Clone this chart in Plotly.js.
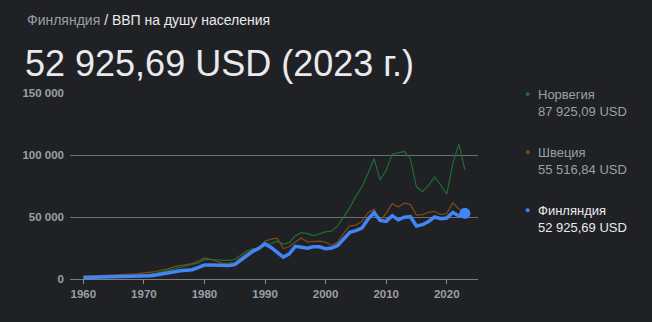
<!DOCTYPE html>
<html>
<head>
<meta charset="utf-8">
<script src="https://cdn.plot.ly/plotly-3.0.1.min.js"></script>
<style>html,body{margin:0;padding:0;background:#202124;}#chart{width:652px;height:322px;}</style>
</head>
<body>
<div id="chart"></div>
<script>
const years = [];
for (let y = 1960; y <= 2023; y++) years.push(y);

const norway = [1441,1561,1667,1772,1937,2130,2303,2498,2660,2887,3306,3736,4413,5689,6811,8204,9097,10404,11378,13025,15772,15813,15506,15021,15042,15748,18883,22515,24219,24331,28243,28597,30525,28178,29321,34876,37321,36629,34788,36371,38131,38543,43084,50134,57604,66810,74148,85140,96944,79978,87693,100600,101524,102913,97019,74356,70461,75497,82268,75826,68340,93073,108798,87925];
const sweden = [2114,2288,2476,2688,2999,3274,3539,3822,4029,4331,4922,5195,6011,7259,8154,9970,10785,11260,12474,14521,17117,15931,13952,12558,12809,13210,17400,21030,24012,25508,30585,32113,32846,24545,26048,29914,33136,29934,30009,30592,29588,27227,29781,36919,42817,43435,46593,53542,56153,46947,52869,60756,58038,61127,60020,51545,51965,53792,54589,51939,52838,61418,56424,55517];
const finland = [1177,1311,1390,1504,1672,1825,1937,1878,1749,2052,2468,2652,3155,4210,5300,6233,6695,7048,7508,9386,11240,11253,11023,10543,10889,11542,15042,18941,22357,24698,28332,25484,21920,17575,20303,26325,25640,24903,26033,25995,24349,24998,27069,32894,37617,39000,41141,48295,53401,47260,46459,51081,47710,49878,50260,42784,43784,46412,50038,48630,49171,53654,50872,52925];

const seriesNames = ['Норвегия','Швеция','Финляндия'];
const seriesLast = ['87 925,09 USD','55 516,84 USD','52 925,69 USD'];
const xTicks = [1960,1970,1980,1990,2000,2010,2020];
const yTicks = [0,50000,100000,150000];
const yTickText = ['0','50 000','100 000','150 000'];
const headerCountry = 'Финляндия';
const headerMetric = 'ВВП на душу населения';
const bigTitle = '52 925,69 USD (2023 г.)';

const colors = ['#1e6e34','#7b4a1c','#4285f4'];
const BG = '#202124';
const FONT = 'Arial, "Liberation Sans", sans-serif';

const L = 70, R = 478, T = 93, B = 279, W = 652, H = 322;
const px = x => (x - L) / (R - L);
const py = y => (B - y) / (B - T);

const traces = [
  {x: years, y: norway, type: 'scatter', mode: 'lines', line: {color: colors[0], width: 1.2}, hoverinfo: 'skip'},
  {x: years, y: sweden, type: 'scatter', mode: 'lines', line: {color: colors[1], width: 1.2}, hoverinfo: 'skip'},
  {x: years, y: finland, type: 'scatter', mode: 'lines', line: {color: colors[2], width: 3.5}, hoverinfo: 'skip'},
  {x: [years[years.length-1]], y: [finland[finland.length-1]], type: 'scatter', mode: 'markers', marker: {color: colors[2], size: 11}, hoverinfo: 'skip'}
];

const ann = [];
ann.push({xref:'paper', yref:'paper', x: px(25), y: py(20), xanchor:'left', yanchor:'middle', showarrow:false,
  text: '<span style="color:#9aa0a6">' + headerCountry + '</span> / ' + headerMetric,
  font: {family: FONT, size: 14, color:'#e8eaed'}});
ann.push({xref:'paper', yref:'paper', x: px(23), y: py(64), xanchor:'left', yanchor:'middle', showarrow:false,
  text: bigTitle, font: {family: FONT, size: 36, color:'#e8eaed'}});

const legY = [94, 152, 210];
for (let i = 0; i < 3; i++) {
  const c = i === 2 ? '#e8eaed' : '#9aa0a6';
  ann.push({xref:'paper', yref:'paper', x: px(527), y: py(legY[i]), xanchor:'center', yanchor:'middle', showarrow:false,
    text: '●', font: {family: FONT, size: 9, color: colors[i]}});
  ann.push({xref:'paper', yref:'paper', x: px(536), y: py(legY[i]), xanchor:'left', yanchor:'middle', showarrow:false,
    text: seriesNames[i], font: {family: FONT, size: 13, color: c}});
  ann.push({xref:'paper', yref:'paper', x: px(536), y: py(legY[i] + 17), xanchor:'left', yanchor:'middle', showarrow:false,
    text: seriesLast[i], font: {family: FONT, size: 13, color: c}});
}

const layout = {
  width: W, height: H,
  paper_bgcolor: BG, plot_bgcolor: BG,
  margin: {l: L, r: W - R, t: T, b: H - B, pad: 0},
  showlegend: false,
  separators: ', ',
  xaxis: {range: [1957.8, 2025.16], tickvals: xTicks, ticktext: xTicks.map(String), showgrid: false, zeroline: false,
    showline: false, ticks: 'outside', ticklen: 4, tickwidth: 1, tickcolor: '#8a8d91',
    tickfont: {family: FONT, size: 11.5, color:'#9aa0a6', weight: 'bold'}, fixedrange: true},
  yaxis: {range: [0, 150000], tickvals: yTicks, ticktext: yTickText, showgrid: true,
    gridcolor: '#6b6e72', gridwidth: 1, zeroline: true, zerolinecolor: '#7a7d81', zerolinewidth: 1, showline: false, ticks: '',
    ticklabelstandoff: 5, tickfont: {family: FONT, size: 11.5, color:'#9aa0a6', weight: 'bold'}, fixedrange: true},
  annotations: ann
};

Plotly.newPlot('chart', traces, layout, {displayModeBar: false, staticPlot: true});
</script>
</body>
</html>
